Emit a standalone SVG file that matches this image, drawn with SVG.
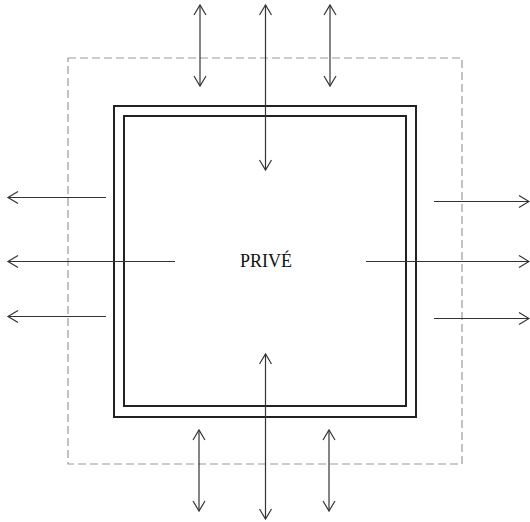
<svg xmlns="http://www.w3.org/2000/svg" width="530" height="522" viewBox="0 0 530 522">
  <style>
    .arr { stroke: #333; stroke-width: 1.2; fill: none; marker-end: url(#ah); }
    .dbl { marker-start: url(#ah); }
    .wall { fill: none; stroke: #222; stroke-width: 2; }
    .zone { fill: none; stroke: #999; stroke-width: 1.2; stroke-dasharray: 8 4; }
    .lbl { font-family: "Liberation Serif", "Times New Roman", serif; font-size: 18px; fill: #111; text-anchor: middle; }
  </style>
  <defs>
    <marker id="ah" markerUnits="userSpaceOnUse" markerWidth="14" markerHeight="16" refX="11" refY="7" orient="auto-start-reverse" viewBox="0 0 14 16">
      <path d="M1,1 L11,7 L1,13" fill="none" stroke="#333" stroke-width="1.2"/>
    </marker>
  </defs>
  <rect width="530" height="522" fill="#fff"/>
  <g id="zone">
    <rect class="zone" x="68" y="58" width="394" height="406"/>
  </g>
  <g id="prive">
    <rect class="wall" x="114" y="106" width="302" height="311"/>
    <rect class="wall" x="124" y="116" width="282" height="290"/>
    <text class="lbl" x="266" y="267">PRIVÉ</text>
  </g>
  <g id="connectors">
    <line class="arr dbl" x1="200" y1="86" x2="200" y2="5"/>
    <line class="arr dbl" x1="265.5" y1="170" x2="265.5" y2="5"/>
    <line class="arr dbl" x1="330" y1="86" x2="330" y2="5"/>
    <line class="arr dbl" x1="199" y1="430" x2="199" y2="511"/>
    <line class="arr dbl" x1="265.5" y1="354" x2="265.5" y2="519"/>
    <line class="arr dbl" x1="329" y1="430" x2="329" y2="511"/>
    <line class="arr" x1="106" y1="197.5" x2="8" y2="197.5"/>
    <line class="arr" x1="175" y1="261.5" x2="8" y2="261.5"/>
    <line class="arr" x1="106" y1="316.5" x2="8" y2="316.5"/>
    <line class="arr" x1="434" y1="201.5" x2="529" y2="201.5"/>
    <line class="arr" x1="366" y1="261.5" x2="529" y2="261.5"/>
    <line class="arr" x1="434" y1="318.5" x2="529" y2="318.5"/>
  </g>
</svg>
